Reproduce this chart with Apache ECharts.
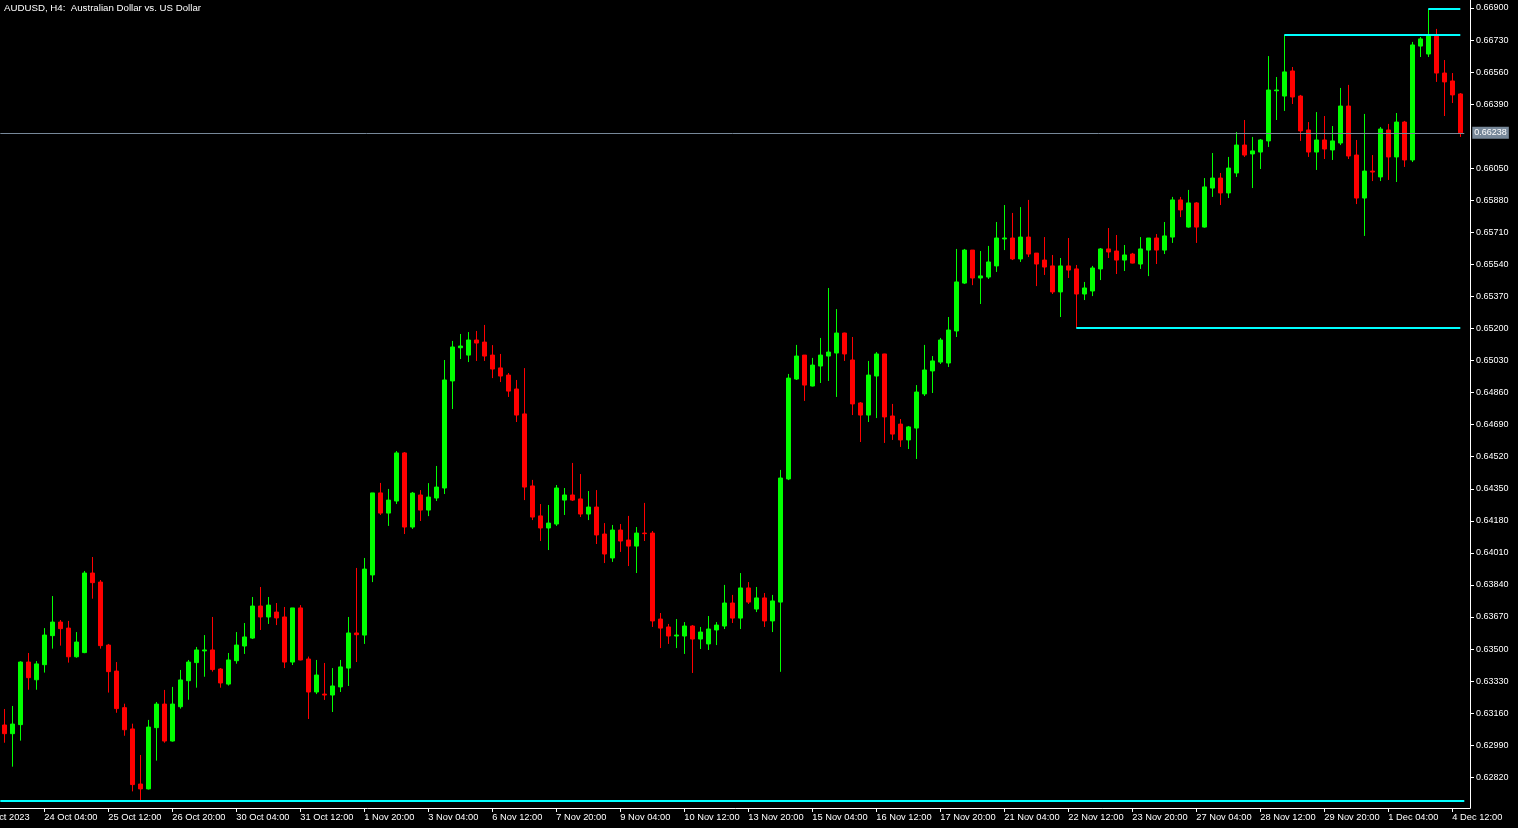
<!DOCTYPE html>
<html><head><meta charset="utf-8">
<script src="https://cdn.jsdelivr.net/npm/echarts@6/dist/echarts.min.js"></script>
<style>html,body{margin:0;padding:0;background:#000;overflow:hidden}#c{width:1518px;height:828px;}</style>
</head><body><div id="c"></div>
<script>
// ---- data (AUDUSD H4) ----
const opens = [
0.63097,0.63051,0.63099,0.63431,0.63337,0.63417,0.63571,0.63643,0.63611,0.63459,
0.63481,0.63903,0.63855,0.63521,0.63383,0.63189,0.63076,0.62784,0.62758,0.63083,
0.63208,0.63012,0.63194,0.63332,0.63428,0.63490,0.63495,0.63394,0.63314,0.63438,
0.63516,0.63558,0.63728,0.63670,0.63696,0.63670,0.63431,0.63718,0.63447,0.63272,
0.63261,0.63256,0.63299,0.63399,0.63585,0.63574,0.63893,0.64328,0.64221,0.64285,
0.64540,0.64147,0.64317,0.64237,0.64301,0.64354,0.64922,0.65098,0.65059,0.65139,
0.65128,0.65059,0.64991,0.64953,0.64879,0.64747,0.64365,0.64206,0.64142,0.64163,
0.64290,0.64317,0.64296,0.64216,0.64253,0.64110,0.63983,0.64131,0.64078,0.64046,
0.64115,0.64115,0.63659,0.63617,0.63569,0.63569,0.63622,0.63553,0.63527,0.63601,
0.63622,0.63744,0.63664,0.63824,0.63712,0.63771,0.63649,0.63749,0.64402,0.64932,
0.65059,0.64895,0.65001,0.65054,0.65070,0.65176,0.65033,0.64805,0.64741,0.64948,
0.65065,0.64736,0.64693,0.64609,0.64672,0.64853,0.64975,0.65022,0.65017,0.65187,
0.65441,0.65616,0.65468,0.65473,0.65532,0.65675,0.65680,0.65569,0.65685,0.65600,
0.65563,0.65532,0.65394,0.65532,0.65516,0.65383,0.65399,0.65516,0.65622,0.65611,
0.65563,0.65595,0.65542,0.65616,0.65680,0.65616,0.65685,0.65882,0.65738,0.65866,
0.65738,0.65945,0.65998,0.65919,0.66025,0.66173,0.66126,0.66136,0.66195,0.66461,
0.66433,0.66566,0.66433,0.66253,0.66136,0.66200,0.66147,0.66184,0.66380,0.66120,
0.65892,0.66035,0.66004,0.66253,0.66110,0.66295,0.66094,0.66698,0.66656,0.66751,
0.66555,0.66513,0.66444];
const highs = [
0.63182,0.63198,0.63435,0.63479,0.63436,0.63611,0.63781,0.63654,0.63649,0.63590,
0.63914,0.63988,0.63866,0.63527,0.63431,0.63210,0.63104,0.62938,0.63124,0.63219,
0.63283,0.63299,0.63389,0.63442,0.63511,0.63574,0.63670,0.63399,0.63479,0.63590,
0.63638,0.63776,0.63829,0.63776,0.63744,0.63723,0.63718,0.63733,0.63460,0.63442,
0.63426,0.63399,0.63442,0.63670,0.63930,0.63983,0.64328,0.64381,0.64349,0.64550,
0.64545,0.64333,0.64343,0.64380,0.64471,0.65033,0.65134,0.65171,0.65181,0.65187,
0.65219,0.65112,0.65065,0.64964,0.64927,0.64990,0.64397,0.64269,0.64264,0.64370,
0.64354,0.64487,0.64428,0.64338,0.64343,0.64168,0.64158,0.64163,0.64206,0.64147,
0.64275,0.64126,0.63691,0.63633,0.63659,0.63643,0.63627,0.63617,0.63675,0.63643,
0.63840,0.63787,0.63903,0.63855,0.63829,0.63797,0.63787,0.64450,0.64959,0.65113,
0.65059,0.65044,0.65150,0.65415,0.65303,0.65178,0.65155,0.64810,0.65028,0.65075,
0.65066,0.64800,0.64720,0.64683,0.64900,0.65113,0.65054,0.65150,0.65261,0.65622,
0.65622,0.65616,0.65611,0.65638,0.65765,0.65855,0.65813,0.65844,0.65882,0.65600,
0.65685,0.65590,0.65574,0.65680,0.65537,0.65447,0.65532,0.65627,0.65733,0.65696,
0.65643,0.65601,0.65685,0.65680,0.65701,0.65765,0.65898,0.65898,0.65935,0.65871,
0.65998,0.66131,0.66025,0.66110,0.66242,0.66306,0.66216,0.66205,0.66645,0.66534,
0.66757,0.66587,0.66439,0.66295,0.66348,0.66327,0.66274,0.66476,0.66492,0.66200,
0.66338,0.66120,0.66269,0.66285,0.66343,0.66301,0.66720,0.66746,0.66895,0.66789,
0.66624,0.66555,0.66449];
const lows = [
0.63003,0.62876,0.63014,0.63284,0.63284,0.63375,0.63502,0.63518,0.63428,0.63454,
0.63478,0.63767,0.63502,0.63269,0.63162,0.63040,0.62745,0.62694,0.62755,0.62908,
0.63003,0.63009,0.63184,0.63231,0.63295,0.63353,0.63380,0.63295,0.63306,0.63422,
0.63474,0.63553,0.63601,0.63633,0.63627,0.63399,0.63415,0.63440,0.63129,0.63261,
0.63230,0.63166,0.63272,0.63304,0.63431,0.63527,0.63855,0.64211,0.64153,0.64269,
0.64110,0.64137,0.64179,0.64205,0.64285,0.64322,0.64773,0.65038,0.65022,0.65028,
0.65028,0.64937,0.64916,0.64837,0.64704,0.64290,0.64184,0.64073,0.64025,0.64153,
0.64211,0.64285,0.64200,0.64184,0.64057,0.63956,0.63962,0.64015,0.63940,0.63903,
0.64073,0.63617,0.63505,0.63527,0.63505,0.63474,0.63373,0.63500,0.63495,0.63521,
0.63606,0.63638,0.63606,0.63739,0.63696,0.63617,0.63590,0.63379,0.64396,0.64927,
0.64816,0.64893,0.64911,0.64922,0.64837,0.65028,0.64741,0.64598,0.64704,0.64725,
0.64593,0.64609,0.64572,0.64561,0.64508,0.64842,0.64858,0.65012,0.64996,0.65155,
0.65436,0.65430,0.65330,0.65463,0.65500,0.65616,0.65563,0.65553,0.65579,0.65425,
0.65484,0.65383,0.65261,0.65468,0.65203,0.65351,0.65372,0.65457,0.65574,0.65489,
0.65505,0.65545,0.65516,0.65478,0.65542,0.65595,0.65654,0.65791,0.65735,0.65654,
0.65735,0.65898,0.65855,0.65892,0.66004,0.66110,0.65945,0.66046,0.66163,0.66306,
0.66354,0.66391,0.66195,0.66110,0.66041,0.66099,0.66094,0.66173,0.66099,0.65860,
0.65691,0.65982,0.65982,0.65988,0.65977,0.66057,0.66083,0.66640,0.66640,0.66508,
0.66327,0.66396,0.66216];
const closes = [
0.63051,0.63102,0.63431,0.63348,0.63421,0.63574,0.63643,0.63608,0.63459,0.63537,
0.63903,0.63852,0.63518,0.63380,0.63184,0.63072,0.62781,0.62758,0.63086,0.63208,
0.63012,0.63208,0.63336,0.63431,0.63495,0.63495,0.63391,0.63320,0.63442,0.63521,
0.63564,0.63728,0.63670,0.63733,0.63665,0.63431,0.63718,0.63442,0.63272,0.63362,
0.63256,0.63304,0.63405,0.63585,0.63576,0.63924,0.64328,0.64221,0.64290,0.64540,
0.64147,0.64327,0.64237,0.64306,0.64359,0.64927,0.65102,0.65107,0.65139,0.65123,
0.65054,0.64985,0.64948,0.64868,0.64741,0.64359,0.64200,0.64142,0.64168,0.64354,
0.64317,0.64290,0.64216,0.64253,0.64105,0.64004,0.64131,0.64073,0.64046,0.64115,
0.64112,0.63649,0.63611,0.63569,0.63574,0.63622,0.63553,0.63590,0.63606,0.63627,
0.63744,0.63664,0.63824,0.63749,0.63771,0.63649,0.63755,0.64407,0.64937,0.65054,
0.64900,0.65006,0.65059,0.65075,0.65176,0.65065,0.64800,0.64741,0.64953,0.65065,
0.64731,0.64640,0.64609,0.64678,0.64863,0.64980,0.65028,0.65139,0.65192,0.65447,
0.65616,0.65468,0.65479,0.65553,0.65680,0.65680,0.65569,0.65685,0.65595,0.65542,
0.65526,0.65394,0.65532,0.65510,0.65383,0.65415,0.65521,0.65622,0.65606,0.65563,
0.65590,0.65547,0.65622,0.65680,0.65616,0.65691,0.65882,0.65829,0.65866,0.65738,
0.65951,0.65998,0.65919,0.66051,0.66173,0.66120,0.66142,0.66200,0.66465,0.66465,
0.66561,0.66428,0.66248,0.66136,0.66200,0.66152,0.66195,0.66380,0.66115,0.65892,
0.66035,0.66030,0.66258,0.66110,0.66295,0.66094,0.66704,0.66736,0.66751,0.66555,
0.66508,0.66439,0.66238];

// price-scale tick labels (0.66220 hidden behind the bid label)
const priceTicks = [0.62820,0.62990,0.63160,0.63330,0.63500,0.63670,0.63840,0.64010,0.64180,0.64350,
  0.64520,0.64690,0.64860,0.65030,0.65200,0.65370,0.65540,0.65710,0.65880,0.66050,
  0.66390,0.66560,0.66730,0.66900];
// horizontal level lines: start bar index (null = from chart start), price
const levelStarts = [null, 134, 160, 178];
const levelPrices = [0.62694, 0.65203, 0.66757, 0.66895];
const bidPrice = 0.66238;
const firstBarUTC = [2023, 9, 23, 8]; // 23 Oct 2023 08:00, H4 bars, weekends skipped
const firstAxisLabel = '23 Oct 2023';
const yMin = 0.626568, yMax = 0.669424;

// ---- build categories ----
const MON = ['Jan','Feb','Mar','Apr','May','Jun','Jul','Aug','Sep','Oct','Nov','Dec'];
function pad(n){return (n<10?'0':'')+n;}
const categories = [];
(function(){
  let t = Date.UTC(firstBarUTC[0], firstBarUTC[1], firstBarUTC[2], firstBarUTC[3]);
  while (categories.length < opens.length) {
    const d = new Date(t); const wd = d.getUTCDay();
    if (wd !== 0 && wd !== 6) categories.push(d.getUTCDate()+' '+MON[d.getUTCMonth()]+' '+pad(d.getUTCHours())+':00');
    t += 4*3600*1000;
  }
})();
const candles = opens.map((o,i)=>[o, closes[i], lows[i], highs[i]]);
const isLabel = (i)=> i % 8 === 5;
const FONT = 'Liberation Sans, Arial, sans-serif';
const UP = '#00ff00', DOWN = '#ff0000', LEVEL = '#00ffff', BID = '#778899';
const last = opens.length - 1;

const markData = [];
levelStarts.forEach((s,k)=>{
  const ls = {color:LEVEL, width:2, type:'solid'};
  if (s === null) markData.push({yAxis: levelPrices[k], lineStyle:ls, label:{show:false}});
  else markData.push([{coord:[s, levelPrices[k]], lineStyle:ls, label:{show:false}}, {coord:[last, levelPrices[k]]}]);
});
markData.push({yAxis: bidPrice, lineStyle:{color:BID, width:1, type:'solid'},
  label:{show:true, position:'end', distance:8, formatter: bidPrice.toFixed(5),
    color:'#ffffff', backgroundColor:BID, fontSize:9, fontFamily:FONT, padding:[2,2,1,2]}});

const chart = echarts.init(document.getElementById('c'));
chart.setOption({
  backgroundColor:'#000000',
  animation:false,
  title:{text:'AUDUSD, H4:  Australian Dollar vs. US Dollar', left:4, top:3, padding:0,
    textStyle:{color:'#ffffff', fontSize:9.7, fontWeight:'normal', fontFamily:FONT}},
  grid:{left:0.3, top:0, width:1464, bottom:20},
  xAxis:{type:'category', data:categories, boundaryGap:true,
    axisLine:{show:false},
    axisTick:{show:true, alignWithLabel:true, interval:isLabel, length:4, lineStyle:{color:'#ffffff'}},
    axisLabel:{show:true, interval:isLabel, align:'left', color:'#ffffff', fontSize:9.3, fontFamily:FONT, margin:5},
    splitLine:{show:false}},
  yAxis:{type:'value', position:'right', offset:5.7, min:yMin, max:yMax, scale:true,
    axisLine:{show:true, lineStyle:{color:'#ffffff'}},
    axisTick:{show:true, length:4, customValues:priceTicks, lineStyle:{color:'#ffffff'}},
    axisLabel:{show:true, customValues:priceTicks, formatter:(v)=>v.toFixed(5), color:'#ffffff', fontSize:9, fontFamily:FONT, margin:6},
    splitLine:{show:false}},
  graphic:[
    {type:'line', shape:{x1:0, y1:808.5, x2:1470.5, y2:808.5}, style:{stroke:'#ffffff', lineWidth:1}, silent:true},
    {type:'text', left:-21, top:813, style:{text:firstAxisLabel, fill:'#ffffff', fontSize:9.3, fontFamily:FONT}, silent:true}
  ],
  series:[{
    type:'candlestick', data:candles, barWidth:4,
    itemStyle:{color:UP, color0:DOWN, borderColor:UP, borderColor0:DOWN, borderWidth:1},
    markLine:{silent:true, precision:5, symbol:['none','none'], animation:false, data:markData}
  }]
});
</script></body></html>
